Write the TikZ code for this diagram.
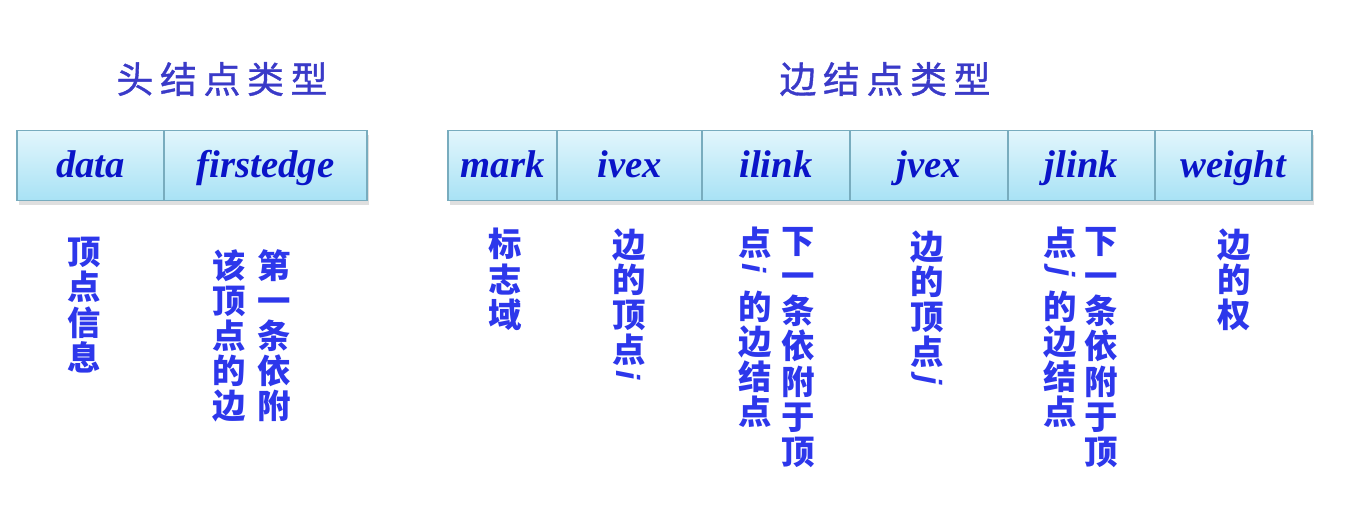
\documentclass[tikz,border=0pt]{standalone}
\usepackage{fontspec}
\setmainfont{Liberation Serif}
\setsansfont{Liberation Sans}
\newfontfamily\cjk{Noto Sans CJK SC}
\usetikzlibrary{shadows}

\definecolor{titleblue}{RGB}{58,58,200}
\definecolor{fieldblue}{RGB}{10,20,200}
\definecolor{noteblue}{RGB}{45,55,235}
\definecolor{celltop}{RGB}{226,246,252}
\definecolor{cellbot}{RGB}{168,226,245}
\definecolor{cellline}{RGB}{120,172,190}

\newcommand{\roti}{\rotatebox[origin=c]{-90}{\sffamily\itshape i}}
\newcommand{\rotj}{\rotatebox[origin=c]{-90}{\sffamily\itshape j}}

\begin{document}
\begin{tikzpicture}[x=0.02cm,y=-0.02cm,
  field/.style={draw=cellline,line width=0.8pt,top color=celltop,bottom color=cellbot,
    minimum height=1.4cm,inner sep=0pt,outer sep=0pt,text=fieldblue,
    text height=16pt,text depth=2pt,
    font=\fontsize{22pt}{24pt}\selectfont\bfseries\itshape,
    drop shadow={shadow xshift=1pt,shadow yshift=-2.5pt,opacity=0.25}},
  title/.style={text=titleblue,font=\cjk\addfontfeatures{LetterSpace=18,FakeBold=1}\fontsize{21pt}{22pt}\selectfont},
  note/.style={anchor=north,align=center,inner sep=0pt,text=noteblue,
    font=\cjk\bfseries\fontsize{19pt}{20pt}\selectfont}]

\useasboundingbox (0,0) rectangle (1350,529);

% titles
\node[title] (headtitle) at (222,79) {头结点类型};
\node[title] (edgetitle) at (885,79) {边结点类型};

% head node fields
\node[field,minimum width=2.94cm] (data) at (90.5,165.5) {data};
\node[field,minimum width=4.06cm] (firstedge) at (265.5,165.5) {firstedge};

% edge node fields
\node[field,minimum width=2.18cm] (mark) at (502.5,165.5) {mark};
\node[field,minimum width=2.90cm] (ivex) at (629.5,165.5) {ivex};
\node[field,minimum width=2.96cm] (ilink) at (776,165.5) {ilink};
\node[field,minimum width=3.16cm] (jvex) at (929,165.5) {jvex};
\node[field,minimum width=2.94cm] (jlink) at (1081.5,165.5) {jlink};
\node[field,minimum width=3.14cm] (weight) at (1233.5,165.5) {weight};

% notes under the fields
\node[note] (datanote) at (84,237) {顶\\点\\信\\息};
\node[note] (firstnoteA) at (274,249) {第\\一\\条\\依\\附};
\node[note] (firstnoteB) at (229,249) {该\\顶\\点\\的\\边};
\node[note] (marknote) at (505,228) {标\\志\\域};
\node[note] (ivexnote) at (629,228) {边\\的\\顶\\点\\[-6pt]\roti};
\node[note] (ilinknoteA) at (798,227) {下\\一\\条\\依\\附\\于\\顶};
\node[note] (ilinknoteB) at (755,227) {点\\[-6pt]\roti\\[2pt]的\\边\\结\\点};
\node[note] (jvexnote) at (927,230) {边\\的\\顶\\点\\[-6pt]\rotj};
\node[note] (jlinknoteA) at (1101,227) {下\\一\\条\\依\\附\\于\\顶};
\node[note] (jlinknoteB) at (1060,227) {点\\[-6pt]\rotj\\[2pt]的\\边\\结\\点};
\node[note] (weightnote) at (1234,228) {边\\的\\权};
\end{tikzpicture}
\end{document}
